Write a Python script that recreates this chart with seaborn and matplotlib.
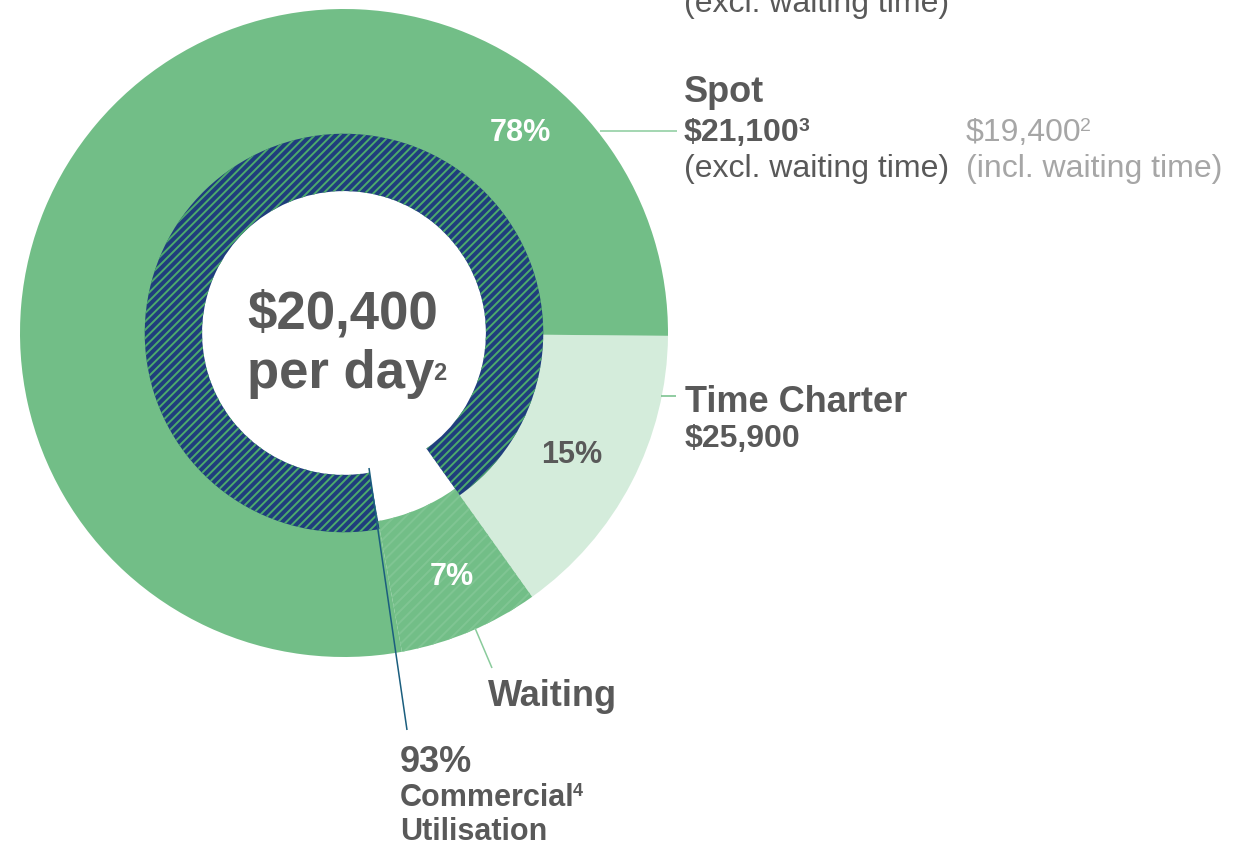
import matplotlib
matplotlib.use("Agg")
import matplotlib.pyplot as plt
import seaborn as sns

# ---------------- data ----------------
segments = ["Time Charter", "Waiting", "Spot"]
segment_share = [15, 7, 78]
segment_labels = ["15%", "7%", "78%"]
utilisation = [93, 7]            # commercial utilisation vs idle
center_value = "\\$20,400"
center_unit = "per day"
spot_rate_excl = "\\$21,100"
spot_rate_incl = "\\$19,400"
tc_rate = "\\$25,900"

# ---------------- style ----------------
sns.set_theme(style="white")
plt.rcParams["font.family"] = ["Liberation Sans", "DejaVu Sans"]
plt.rcParams["hatch.linewidth"] = 1.4

GREEN = "#72BE87"
LIGHT = "#D4ECDB"
WAIT_STRIPE = "#80C593"
NAVY = "#1F3D7D"
NAVY_STRIPE = "#4CAA6C"
GRAY = "#595959"
LGRAY = "#A6A6A6"
LINE_GREEN = "#8ACB9C"
TEAL = "#1B5E7E"

W, H = 1248, 847
CX, CY, R = 344, 333, 324

fig = plt.figure(figsize=(W / 100, H / 100), dpi=100)
ax = fig.add_axes([0, 0, 1, 1])


def P(px, py):
    """pixel -> data coordinates (pie radius 1 == R pixels)."""
    return (px - CX) / R, (CY - py) / R


# outer ring
outer, _ = ax.pie(segment_share, radius=1.0, startangle=-0.5, counterclock=False,
                  colors=[LIGHT, GREEN, GREEN],
                  wedgeprops=dict(width=0.41, linewidth=0))
outer[1].set_hatch("///")
outer[1].set_edgecolor(WAIT_STRIPE)
outer[1].set_linewidth(0)

# inner ring: utilisation, starting where waiting ends
start_inner = -0.5 - (segment_share[0] + segment_share[1]) / 100 * 360
inner, _ = ax.pie(utilisation, radius=0.615, startangle=start_inner,
                  counterclock=False, colors=[NAVY, "white"],
                  wedgeprops=dict(width=0.177, linewidth=0))
inner[0].set_hatch("////")
inner[0].set_edgecolor(NAVY_STRIPE)
inner[0].set_linewidth(0)
inner[1].set_visible(False)

ax.set_xlim(-CX / R, (W - CX) / R)
ax.set_ylim(-(H - CY) / R, CY / R)
ax.set_axis_off()


def txt(px, py, s, size, color=GRAY, weight="bold", ha="left", va="baseline"):
    x, y = P(px, py)
    return ax.text(x, y, s, fontsize=size, color=color, fontweight=weight,
                   ha=ha, va=va)


def sup(t, py, s, size, rise, color=GRAY, weight="bold"):
    _, y = P(0, py)
    ax.annotate(s, xy=(1.0, y), xycoords=(t, "data"),
                xytext=(-1.0, rise), textcoords="offset points",
                fontsize=size, color=color, fontweight=weight,
                ha="left", va="baseline")


# centre
txt(247, 328, center_value, 38)
t = txt(247, 388, center_unit, 38)
sup(t, 388, "2", 17, 6)

# percentages on ring
txt(520, 133, segment_labels[2], 22, color="white", ha="center", va="center")
txt(572, 455, segment_labels[0], 22, ha="center", va="center")
txt(452, 577, segment_labels[1], 22, color="white", ha="center", va="center")

# top (cut) line
txt(684, 12, "(excl. waiting time)", 23, weight="normal")

# Spot
txt(684, 102, segments[2], 26)
t = txt(684, 141, spot_rate_excl, 23)
sup(t, 141, "3", 14, 7)
txt(684, 177, "(excl. waiting time)", 23, weight="normal")
t = txt(966, 141, spot_rate_incl, 23, color=LGRAY, weight="normal")
sup(t, 141, "2", 14, 7, color=LGRAY, weight="normal")
txt(966, 177, "(incl. waiting time)", 23, color=LGRAY, weight="normal")

# Time Charter
txt(685, 412, segments[0], 26)
txt(685, 447, tc_rate, 23)

# Waiting
txt(488, 706, segments[1], 26)

# Commercial utilisation
txt(400, 772, f"{utilisation[0]}%", 26)
t = txt(400, 806, "Commercial", 22)
sup(t, 806, "4", 13, 7)
txt(400, 840, "Utilisation", 22)

# leader lines
def line(p0, p1, color):
    (x0, y0), (x1, y1) = P(*p0), P(*p1)
    ax.plot([x0, x1], [y0, y1], color=color, lw=1.1, solid_capstyle="butt")

line((600, 131), (677, 131), LINE_GREEN)
line((661, 396), (676, 396), GREEN)
line((475, 628), (492, 668), LINE_GREEN)
line((369, 468), (407, 730), TEAL)

fig.savefig("out.png", dpi=100, facecolor="white")
